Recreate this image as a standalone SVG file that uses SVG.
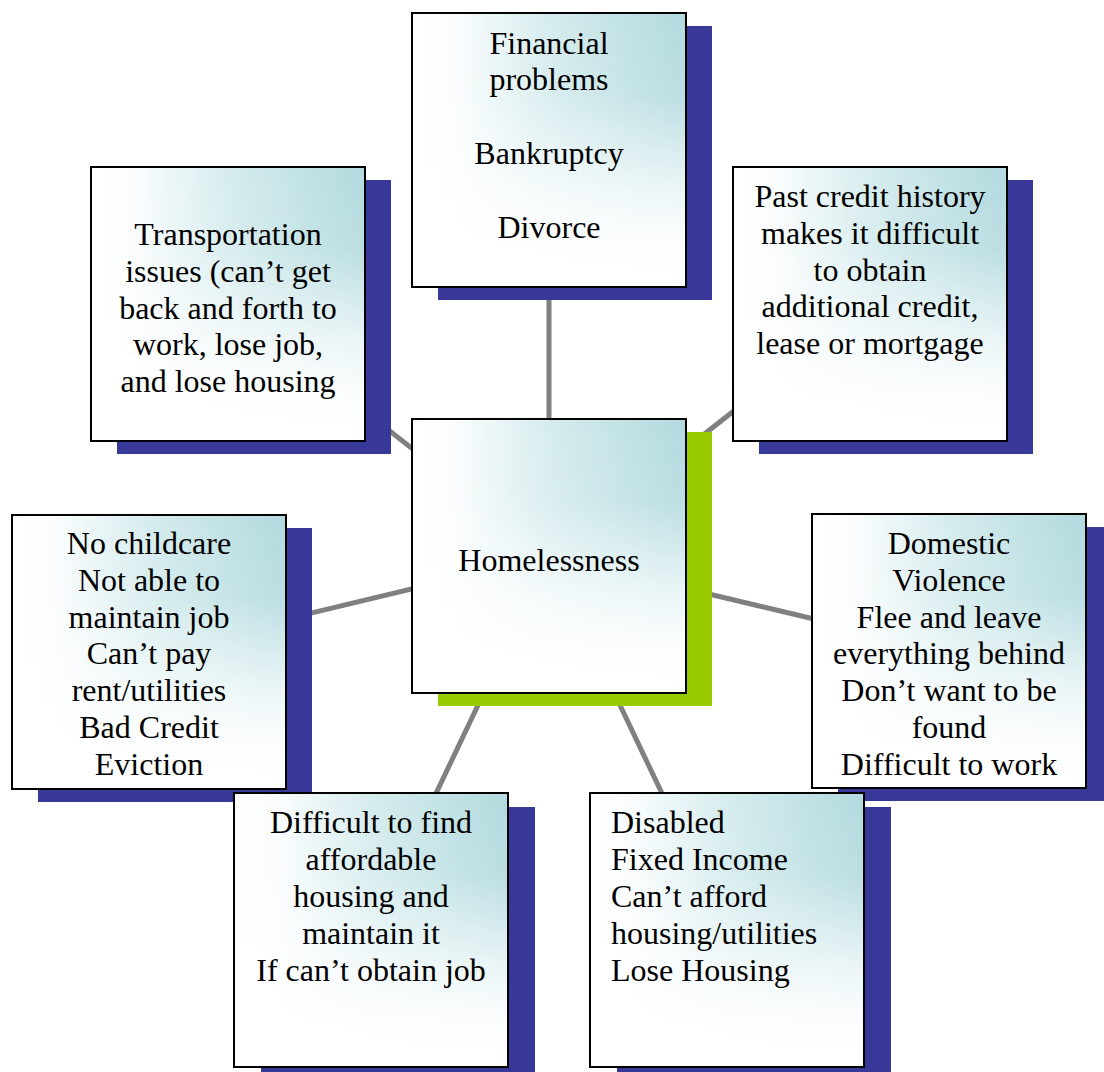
<svg xmlns="http://www.w3.org/2000/svg" width="1104" height="1072" viewBox="0 0 1104 1072">
<style>
.box{fill:url(#p);stroke:#000;stroke-width:2}
.sh{fill:#383898}
.shg{fill:#99cc00}
.t{font-family:"Liberation Serif","Times New Roman",serif;font-size:32px;fill:#000;text-anchor:middle}
.tl{text-anchor:start}
.c{stroke:#808080;stroke-width:5;fill:none}
</style>
<defs>
<linearGradient id="h" x1="0" y1="0" x2="1" y2="0">
<stop offset="0" stop-color="#ffffff"/>
<stop offset="0.15" stop-color="#fbfdfd"/>
<stop offset="0.5" stop-color="#d6ecee"/>
<stop offset="0.8" stop-color="#c0e1e4"/>
<stop offset="1" stop-color="#b3dadf"/>
</linearGradient>
<linearGradient id="v" x1="0" y1="0" x2="0" y2="1">
<stop offset="0" stop-color="#ffffff" stop-opacity="0"/>
<stop offset="0.3" stop-color="#ffffff" stop-opacity="0.1"/>
<stop offset="0.65" stop-color="#ffffff" stop-opacity="0.75"/>
<stop offset="0.85" stop-color="#ffffff" stop-opacity="0.97"/>
<stop offset="1" stop-color="#ffffff" stop-opacity="1"/>
</linearGradient>
<pattern id="p" patternContentUnits="objectBoundingBox" width="1" height="1">
<rect width="1" height="1" fill="url(#h)"/>
<rect width="1" height="1" fill="url(#v)"/>
</pattern>
</defs>
<rect width="1104" height="1072" fill="#fff"/>
<g id="connectors">
<line class="c" x1="549" y1="556" x2="549" y2="150"/>
<line class="c" x1="549" y1="556" x2="228" y2="304"/>
<line class="c" x1="549" y1="556" x2="870" y2="304"/>
<line class="c" x1="549" y1="556" x2="149" y2="652"/>
<line class="c" x1="549" y1="556" x2="949" y2="651"/>
<line class="c" x1="549" y1="556" x2="371" y2="930"/>
<line class="c" x1="549" y1="556" x2="727" y2="930"/>
</g>
<g id="financial">
<rect class="sh" x="438" y="26" width="274" height="274"/>
<rect class="box" x="412" y="13" width="274" height="274"/>
<text class="t" x="549" y="53.5">Financial</text>
<text class="t" x="549" y="90.3">problems</text>
<text class="t" x="549" y="164">Bankruptcy</text>
<text class="t" x="549" y="237.6">Divorce</text>
</g>
<g id="transportation">
<rect class="sh" x="117" y="180" width="274" height="274"/>
<rect class="box" x="91" y="167" width="274" height="274"/>
<text class="t" x="228" y="245">Transportation</text>
<text class="t" x="228" y="281.8">issues (can’t get</text>
<text class="t" x="228" y="318.6">back and forth to</text>
<text class="t" x="228" y="355.4">work, lose job,</text>
<text class="t" x="228" y="392.2">and lose housing</text>
</g>
<g id="credit">
<rect class="sh" x="759" y="180" width="274" height="274"/>
<rect class="box" x="733" y="167" width="274" height="274"/>
<text class="t" x="870" y="207">Past credit history</text>
<text class="t" x="870" y="243.8">makes it difficult</text>
<text class="t" x="870" y="280.6">to obtain</text>
<text class="t" x="870" y="317.4">additional credit,</text>
<text class="t" x="870" y="354.2">lease or mortgage</text>
</g>
<g id="homelessness">
<rect class="shg" x="438" y="432" width="274" height="274"/>
<rect class="box" x="412" y="419" width="274" height="274"/>
<text class="t" x="549" y="570.5">Homelessness</text>
</g>
<g id="childcare">
<rect class="sh" x="38" y="528" width="274" height="274"/>
<rect class="box" x="12" y="515" width="274" height="274"/>
<text class="t" x="149" y="554">No childcare</text>
<text class="t" x="149" y="590.8">Not able to</text>
<text class="t" x="149" y="627.6">maintain job</text>
<text class="t" x="149" y="664.4">Can’t pay</text>
<text class="t" x="149" y="701.2">rent/utilities</text>
<text class="t" x="149" y="738">Bad Credit</text>
<text class="t" x="149" y="774.8">Eviction</text>
</g>
<g id="domestic">
<rect class="sh" x="838" y="527" width="274" height="274"/>
<rect class="box" x="812" y="514" width="274" height="274"/>
<text class="t" x="949" y="554">Domestic</text>
<text class="t" x="949" y="590.8">Violence</text>
<text class="t" x="949" y="627.6">Flee and leave</text>
<text class="t" x="949" y="664.4">everything behind</text>
<text class="t" x="949" y="701.2">Don’t want to be</text>
<text class="t" x="949" y="738">found</text>
<text class="t" x="949" y="774.8">Difficult to work</text>
</g>
<g id="affordable">
<rect class="sh" x="261" y="807" width="274" height="274"/>
<rect class="box" x="234" y="793" width="274" height="274"/>
<text class="t" x="371" y="833.3">Difficult to find</text>
<text class="t" x="371" y="870.1">affordable</text>
<text class="t" x="371" y="906.9">housing and</text>
<text class="t" x="371" y="943.7">maintain it</text>
<text class="t" x="371" y="980.5">If can’t obtain job</text>
</g>
<g id="disabled">
<rect class="sh" x="617" y="807" width="274" height="274"/>
<rect class="box" x="590" y="793" width="274" height="274"/>
<text class="t tl" x="611" y="833.3">Disabled</text>
<text class="t tl" x="611" y="870.1">Fixed Income</text>
<text class="t tl" x="611" y="906.9">Can’t afford</text>
<text class="t tl" x="611" y="943.7">housing/utilities</text>
<text class="t tl" x="611" y="980.5">Lose Housing</text>
</g>
</svg>
